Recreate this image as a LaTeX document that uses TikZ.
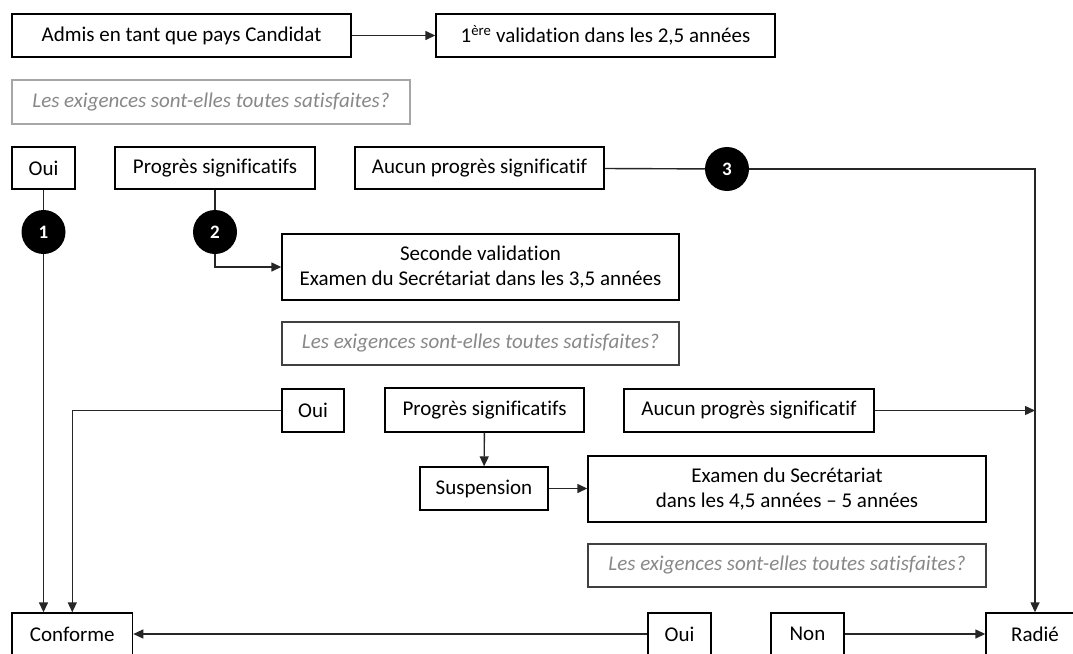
\documentclass[tikz,border=0pt]{standalone}
\usepackage{fontspec}
\setmainfont{Carlito}[Ligatures={NoCommon}]
\usetikzlibrary{arrows.meta}
\definecolor{qtext}{HTML}{888888}
\definecolor{qlight}{HTML}{A6A6A6}
\definecolor{qdark}{HTML}{404040}
\tikzset{
  box/.style={draw=black, line width=1.4pt, inner sep=0pt, align=center,
    font=\fontsize{21}{25}\selectfont},
  qbox/.style={box, text=qtext, font=\fontsize{21}{25}\selectfont\itshape},
  num/.style={circle, fill=black, minimum size=44pt, inner sep=0pt, text=white,
    font=\fontsize{19}{19}\selectfont\bfseries},
  conn/.style={line width=1.4pt, draw=black!85},
  arr/.style={conn, -{Triangle[length=10pt,width=9pt]}},
}
\begin{document}
\begin{tikzpicture}[x=1pt,y=-1pt]
\useasboundingbox (0,0) rectangle (1073,653);
\clip (0,0) rectangle (1073,653);
\fill[white] (0,0) rectangle (1073,653);

% row 1
\node[box, minimum width=339pt, minimum height=43pt] (admis) at (181.5,35.5) {Admis en tant que pays Candidat};
\node[box, minimum width=339pt, minimum height=43pt] (val1) at (605.5,35.5) {1\textsuperscript{ère} validation dans les 2,5 années};
\node[qbox, draw=qlight, minimum width=398pt, minimum height=44pt] (q1) at (211,102) {Les exigences sont-elles toutes satisfaites?};

% row 2
\node[box, minimum width=63pt, minimum height=42pt] (oui1) at (43.5,168) {Oui};
\node[box, minimum width=200pt, minimum height=42pt] (prog1) at (215,168) {Progrès significatifs};
\node[box, minimum width=249pt, minimum height=42pt] (aucun1) at (479.5,168) {Aucun progrès significatif};
\node[num] (n3) at (727,169) {3};
\node[num] (n1) at (43.5,232) {1};
\node[num] (n2) at (215,232) {2};

% second validation
\node[box, minimum width=397pt, minimum height=66pt] (val2) at (480.5,267) {Seconde validation\\Examen du Secrétariat dans les 3,5 années};
\node[qbox, draw=qdark, minimum width=397pt, minimum height=43pt] (q2) at (480.5,343.5) {Les exigences sont-elles toutes satisfaites?};

% row 3
\node[box, minimum width=62pt, minimum height=43pt] (oui2) at (313,410.5) {Oui};
\node[box, minimum width=199pt, minimum height=44pt] (prog2) at (484.5,410) {Progrès significatifs};
\node[box, minimum width=250pt, minimum height=43pt] (aucun2) at (749,410.5) {Aucun progrès significatif};
\node[box, minimum width=128pt, minimum height=43pt] (susp) at (484,488.5) {Suspension};
\node[box, minimum width=398pt, minimum height=66pt] (val3) at (787,489) {Examen du Secrétariat\\dans les 4,5 années -- 5 années};
\node[qbox, draw=qdark, minimum width=398pt, minimum height=43pt] (q3) at (787,565.5) {Les exigences sont-elles toutes satisfaites?};

% bottom row
\node[box, minimum width=120.6pt, minimum height=42pt] (conf) at (72.3,634) {Conforme};
\node[box, minimum width=63pt, minimum height=42pt] (oui3) at (679.5,634) {Oui};
\node[box, minimum width=73pt, minimum height=42pt] (non) at (807.5,634) {Non};
\node[box, minimum width=98pt, minimum height=42pt] (radie) at (1035,634) {Radié};

\coordinate (corner) at (1035,169);
\coordinate (bend2) at (215,267);

% connectors
\draw[arr] (admis) -- (val1);
\draw[conn] (oui1) -- (n1);
\draw[arr] (n1) -- (n1 |- conf.north);
\draw[conn] (prog1) -- (n2);
\draw[arr] (n2) -- (bend2) -- (val2.west |- bend2);
\draw[conn] (aucun1) -- (n3);
\draw[arr] (n3) -- (corner) -- (radie.north);
\draw[arr] (oui2.west) -| (conf.north);
\draw[arr] (prog2) -- (susp);
\draw[arr] (susp) -- (val3.west |- susp);
\draw[arr] (aucun2.east) -- (aucun2.east -| corner);
\draw[arr] (oui3) -- (conf);
\draw[arr] (non) -- (radie);
\end{tikzpicture}
\end{document}
